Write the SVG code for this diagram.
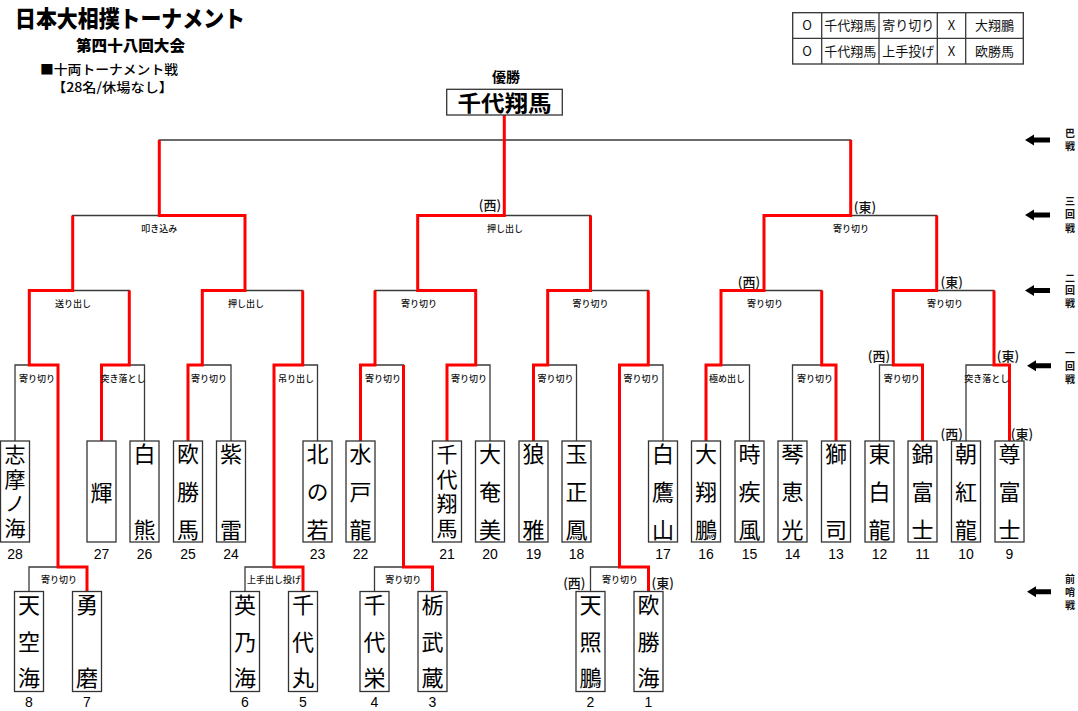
<svg xmlns="http://www.w3.org/2000/svg" width="1078" height="711" viewBox="0 0 1078 711">
<style>
.ln{fill:none;stroke:#3a3a3a;stroke-width:1.3}
.rd{fill:none;stroke:#ff0000;stroke-width:3;stroke-linejoin:miter}
.bx{fill:#fff;stroke:#333;stroke-width:1.3}
.nm{font-family:"Noto Sans CJK JP","Noto Sans CJK SC",sans-serif;font-size:22px;writing-mode:vertical-rl;text-anchor:start;fill:#000}
.n3{letter-spacing:16px}
.n4{font-size:21px;letter-spacing:3.7px}
.p3{letter-spacing:14.5px}
.no{font-family:"Liberation Sans",Arial,sans-serif;font-size:14px;text-anchor:middle;fill:#000}
.kt{font-family:"Noto Sans CJK JP",sans-serif;font-size:9px;font-weight:500;text-anchor:middle;fill:#111}
.ew{font-family:"Noto Sans CJK JP",sans-serif;font-size:13px;font-weight:500;text-anchor:middle;fill:#111}
.rl{font-family:"Noto Sans CJK JP",sans-serif;font-size:10px;font-weight:bold;writing-mode:vertical-rl;text-anchor:start;fill:#111}
.tb{font-family:"Noto Sans CJK JP",sans-serif;font-size:13px;text-anchor:middle;fill:#111}
.ar{fill:#000}
</style>

<g id="title">
<text x="15" y="27" font-family="'Noto Sans CJK JP',sans-serif" font-weight="900" font-size="23" textLength="230" lengthAdjust="spacingAndGlyphs">日本大相撲トーナメント</text>
<text x="76" y="50.5" font-family="'Noto Sans CJK JP',sans-serif" font-weight="900" font-size="15" textLength="109" lengthAdjust="spacingAndGlyphs">第四十八回大会</text>
<text x="40" y="73.5" font-family="'Noto Sans CJK JP',sans-serif" font-weight="500" font-size="13" textLength="138" lengthAdjust="spacingAndGlyphs">■十両トーナメント戦</text>
<text x="52" y="91.5" font-family="'Noto Sans CJK JP',sans-serif" font-weight="500" font-size="13" textLength="121" lengthAdjust="spacingAndGlyphs">【28名/休場なし】</text>
</g>

<g id="results-table">
<rect x="792.7" y="12.7" width="230.6" height="51.3" fill="#fff" stroke="#333" stroke-width="1.3"/>
<path class="ln" d="M792.7,38.3 H1023.3 M821.7,12.7 V64 M879,12.7 V64 M937.3,12.7 V64 M965.7,12.7 V64"/>
<text class="tb" font-family="'Liberation Sans',sans-serif" x="807.2" y="30">O</text>
<text class="tb" x="850.3" y="30">千代翔馬</text>
<text class="tb" x="908.2" y="30">寄り切り</text>
<text class="tb" font-family="'Liberation Sans',sans-serif" x="951.5" y="30">X</text>
<text class="tb" x="994.5" y="30">大翔鵬</text>
<text class="tb" font-family="'Liberation Sans',sans-serif" x="807.2" y="55.5">O</text>
<text class="tb" x="850.3" y="55.5">千代翔馬</text>
<text class="tb" x="908.2" y="55.5">上手投げ</text>
<text class="tb" font-family="'Liberation Sans',sans-serif" x="951.5" y="55.5">X</text>
<text class="tb" x="994.5" y="55.5">欧勝馬</text>
</g>

<g id="connectors">
<path class="ln" d="M159.3,215.5 V140 H850.7 V215.5 M504.3,115 V215.5
M72.7,290.5 V215.5 H245 V290.5 M417.7,290.5 V215.5 H590.5 V290.5 M764,290.5 V215.5 H936.7 V290.5
M29.3,365 V290.5 H129.3 V365 M202.3,365 V290.5 H302.7 V365 M375,365 V290.5 H475.7 V365 M547.7,365 V290.5 H648.3 V365 M721,365 V290.5 H821.7 V365 M893.3,365 V290.5 H994 V365
M15,441 V365 H58 V567 M101.5,441 V365 H144.5 V441 M188,441 V365 H231 V441 M274,567 V365 H317.5 V441 M360.5,441 V365 H403.5 V567 M447,441 V365 H490 V441 M533.5,441 V365 H576.5 V441 M619.5,567 V365 H663 V441 M706,441 V365 H749.5 V441 M792.5,441 V365 H836 V441 M879.5,441 V365 H922.5 V441 M966,441 V365 H1009.5 V441
M29,591.5 V567 H87 V591.5 M245,591.5 V567 H303 V591.5 M374.5,591.5 V567 H432.5 V591.5 M590.5,591.5 V567 H648.5 V591.5"/>
<path class="rd" d="M87,591.5 V567 H58 V365 H29.3 V290.5 H72.7 V215.5"/>
<path class="rd" d="M101.5,441 V365 H129.3 V290.5"/>
<path class="rd" d="M188,441 V365 H202.3 V290.5 H245 V215.5 H159.3 V140"/>
<path class="rd" d="M303,591.5 V567 H274 V365 H302.7 V290.5"/>
<path class="rd" d="M360.5,441 V365 H375 V290.5"/>
<path class="rd" d="M432.5,591.5 V567 H403.5 V365"/>
<path class="rd" d="M447,441 V365 H475.7 V290.5 H417.7 V215.5 H504.3 V115"/>
<path class="rd" d="M533.5,441 V365 H547.7 V290.5 H590.5 V215.5"/>
<path class="rd" d="M648.5,591.5 V567 H619.5 V365 H648.3 V290.5"/>
<path class="rd" d="M706,441 V365 H721 V290.5 H764 V215.5 H850.7 V140"/>
<path class="rd" d="M836,441 V365 H821.7 V290.5"/>
<path class="rd" d="M922.5,441 V365 H893.3 V290.5 H936.7 V215.5"/>
<path class="rd" d="M1009.5,441 V365 H994 V290.5"/>
</g>

<g id="kimarite">
<text class="kt" x="159.3" y="231.5">叩き込み</text>
<text class="kt" x="505" y="231.5">押し出し</text>
<text class="kt" x="851" y="231.5">寄り切り</text>
<text class="kt" x="73" y="306.5">送り出し</text>
<text class="kt" x="246" y="306.5">押し出し</text>
<text class="kt" x="419" y="306.5">寄り切り</text>
<text class="kt" x="590.5" y="306.5">寄り切り</text>
<text class="kt" x="765" y="306.5">寄り切り</text>
<text class="kt" x="945" y="306.5">寄り切り</text>
<text class="kt" x="37" y="382.3">寄り切り</text>
<text class="kt" x="123" y="382.3">突き落とし</text>
<text class="kt" x="209" y="382.3">寄り切り</text>
<text class="kt" x="296" y="382.3">吊り出し</text>
<text class="kt" x="383" y="382.3">寄り切り</text>
<text class="kt" x="469" y="382.3">寄り切り</text>
<text class="kt" x="555.5" y="382.3">寄り切り</text>
<text class="kt" x="641.5" y="382.3">寄り切り</text>
<text class="kt" x="727" y="382.3">極め出し</text>
<text class="kt" x="815" y="382.3">寄り切り</text>
<text class="kt" x="901.7" y="382.3">寄り切り</text>
<text class="kt" x="986.7" y="382.3">突き落とし</text>
<text class="kt" x="59" y="582.5">寄り切り</text>
<text class="kt" x="274" y="582.5">上手出し投げ</text>
<text class="kt" x="403.3" y="582.5">寄り切り</text>
<text class="kt" x="620" y="582.5">寄り切り</text>
</g>

<g id="sides">
<text class="ew" x="490" y="210.3">(西)</text>
<text class="ew" x="865" y="211.8">(東)</text>
<text class="ew" x="749" y="286.8">(西)</text>
<text class="ew" x="951.7" y="286.8">(東)</text>
<text class="ew" x="879" y="361.2">(西)</text>
<text class="ew" x="1008" y="361.2">(東)</text>
<text class="ew" x="951.7" y="438.5">(西)</text>
<text class="ew" x="1022" y="438.5">(東)</text>
<text class="ew" x="574.3" y="587.8">(西)</text>
<text class="ew" x="662.7" y="587.8">(東)</text>
</g>

<g id="champion">
<text x="506" y="82" font-family="'Noto Sans CJK JP',sans-serif" font-weight="bold" font-size="14" text-anchor="middle">優勝</text>
<rect x="446.7" y="89.3" width="115.6" height="25.7" fill="#fff" stroke="#333" stroke-width="1.3"/>
<text x="504.5" y="111" font-family="'Noto Sans CJK JP',sans-serif" font-weight="bold" font-size="22" text-anchor="middle" textLength="94" lengthAdjust="spacingAndGlyphs">千代翔馬</text>
</g>

<g id="n28"><rect class="bx" x="0.5" y="441" width="29" height="101"/><text class="nm n4" x="15" y="443.5">志摩ノ海</text><text class="no" x="15" y="559">28</text></g>
<g id="n27"><rect class="bx" x="87" y="441" width="29" height="101"/><text class="nm" x="101.5" y="482">輝</text><text class="no" x="101.5" y="559">27</text></g>
<g id="n26"><rect class="bx" x="130" y="441" width="29" height="101"/><text class="nm" x="144.5" y="443">白</text><text class="nm" x="144.5" y="519">熊</text><text class="no" x="144.5" y="559">26</text></g>
<g id="n25"><rect class="bx" x="173.5" y="441" width="29" height="101"/><text class="nm n3" x="188" y="443">欧勝馬</text><text class="no" x="188" y="559">25</text></g>
<g id="n24"><rect class="bx" x="216.5" y="441" width="29" height="101"/><text class="nm" x="231" y="443">紫</text><text class="nm" x="231" y="519">雷</text><text class="no" x="231" y="559">24</text></g>
<g id="n23"><rect class="bx" x="303" y="441" width="29" height="101"/><text class="nm n3" x="317.5" y="443">北の若</text><text class="no" x="317.5" y="559">23</text></g>
<g id="n22"><rect class="bx" x="346" y="441" width="29" height="101"/><text class="nm n3" x="360.5" y="443">水戸龍</text><text class="no" x="360.5" y="559">22</text></g>
<g id="n21"><rect class="bx" x="432.5" y="441" width="29" height="101"/><text class="nm n4" x="447" y="443.5">千代翔馬</text><text class="no" x="447" y="559">21</text></g>
<g id="n20"><rect class="bx" x="475.5" y="441" width="29" height="101"/><text class="nm n3" x="490" y="443">大奄美</text><text class="no" x="490" y="559">20</text></g>
<g id="n19"><rect class="bx" x="519" y="441" width="29" height="101"/><text class="nm" x="533.5" y="443">狼</text><text class="nm" x="533.5" y="519">雅</text><text class="no" x="533.5" y="559">19</text></g>
<g id="n18"><rect class="bx" x="562" y="441" width="29" height="101"/><text class="nm n3" x="576.5" y="443">玉正鳳</text><text class="no" x="576.5" y="559">18</text></g>
<g id="n17"><rect class="bx" x="648.5" y="441" width="29" height="101"/><text class="nm n3" x="663" y="443">白鷹山</text><text class="no" x="663" y="559">17</text></g>
<g id="n16"><rect class="bx" x="691.5" y="441" width="29" height="101"/><text class="nm n3" x="706" y="443">大翔鵬</text><text class="no" x="706" y="559">16</text></g>
<g id="n15"><rect class="bx" x="735" y="441" width="29" height="101"/><text class="nm n3" x="749.5" y="443">時疾風</text><text class="no" x="749.5" y="559">15</text></g>
<g id="n14"><rect class="bx" x="778" y="441" width="29" height="101"/><text class="nm n3" x="792.5" y="443">琴恵光</text><text class="no" x="792.5" y="559">14</text></g>
<g id="n13"><rect class="bx" x="821.5" y="441" width="29" height="101"/><text class="nm" x="836" y="443">獅</text><text class="nm" x="836" y="519">司</text><text class="no" x="836" y="559">13</text></g>
<g id="n12"><rect class="bx" x="865" y="441" width="29" height="101"/><text class="nm n3" x="879.5" y="443">東白龍</text><text class="no" x="879.5" y="559">12</text></g>
<g id="n11"><rect class="bx" x="908" y="441" width="29" height="101"/><text class="nm n3" x="922.5" y="443">錦富士</text><text class="no" x="922.5" y="559">11</text></g>
<g id="n10"><rect class="bx" x="951.5" y="441" width="29" height="101"/><text class="nm n3" x="966" y="443">朝紅龍</text><text class="no" x="966" y="559">10</text></g>
<g id="n9"><rect class="bx" x="995" y="441" width="29" height="101"/><text class="nm n3" x="1009.5" y="443">尊富士</text><text class="no" x="1009.5" y="559">9</text></g>

<g id="n8"><rect class="bx" x="14.5" y="591.5" width="29" height="100"/><text class="nm p3" x="29" y="594">天空海</text><text class="no" x="29" y="706.5">8</text></g>
<g id="n7"><rect class="bx" x="72.5" y="591.5" width="29" height="100"/><text class="nm" x="87" y="594">勇</text><text class="nm" x="87" y="667">磨</text><text class="no" x="87" y="706.5">7</text></g>
<g id="n6"><rect class="bx" x="230.5" y="591.5" width="29" height="100"/><text class="nm p3" x="245" y="594">英乃海</text><text class="no" x="245" y="706.5">6</text></g>
<g id="n5"><rect class="bx" x="288.5" y="591.5" width="29" height="100"/><text class="nm p3" x="303" y="594">千代丸</text><text class="no" x="303" y="706.5">5</text></g>
<g id="n4"><rect class="bx" x="360" y="591.5" width="29" height="100"/><text class="nm p3" x="374.5" y="594">千代栄</text><text class="no" x="374.5" y="706.5">4</text></g>
<g id="n3"><rect class="bx" x="418" y="591.5" width="29" height="100"/><text class="nm p3" x="432.5" y="594">栃武蔵</text><text class="no" x="432.5" y="706.5">3</text></g>
<g id="n2"><rect class="bx" x="576" y="591.5" width="29" height="100"/><text class="nm p3" x="590.5" y="594">天照鵬</text><text class="no" x="590.5" y="706.5">2</text></g>
<g id="n1"><rect class="bx" x="634" y="591.5" width="29" height="100"/><text class="nm p3" x="648.5" y="594">欧勝海</text><text class="no" x="648.5" y="706.5">1</text></g>

<g id="round-labels">
<path class="ar" d="M1025,140 L1034,134.5 V137.5 H1050 V142.5 H1034 V145.5 Z"/>
<text class="rl" x="1070" y="128" style="letter-spacing:3px">巴戦</text>
<path class="ar" d="M1025,215 L1034,209.5 V212.5 H1050 V217.5 H1034 V220.5 Z"/>
<text class="rl" x="1070" y="196" style="letter-spacing:3.5px">三回戦</text>
<path class="ar" d="M1025,290.5 L1034,285 V288 H1050 V293 H1034 V296 Z"/>
<text class="rl" x="1070" y="273" style="letter-spacing:2.5px">二回戦</text>
<path class="ar" d="M1027,365.7 L1036,360.2 V363.2 H1051 V368.2 H1036 V371.2 Z"/>
<text class="rl" x="1070" y="348" style="letter-spacing:3px">一回戦</text>
<path class="ar" d="M1027,591.7 L1036,586.2 V589.2 H1051 V594.2 H1036 V597.2 Z"/>
<text class="rl" x="1070" y="574" style="letter-spacing:3px">前哨戦</text>
</g>
</svg>
